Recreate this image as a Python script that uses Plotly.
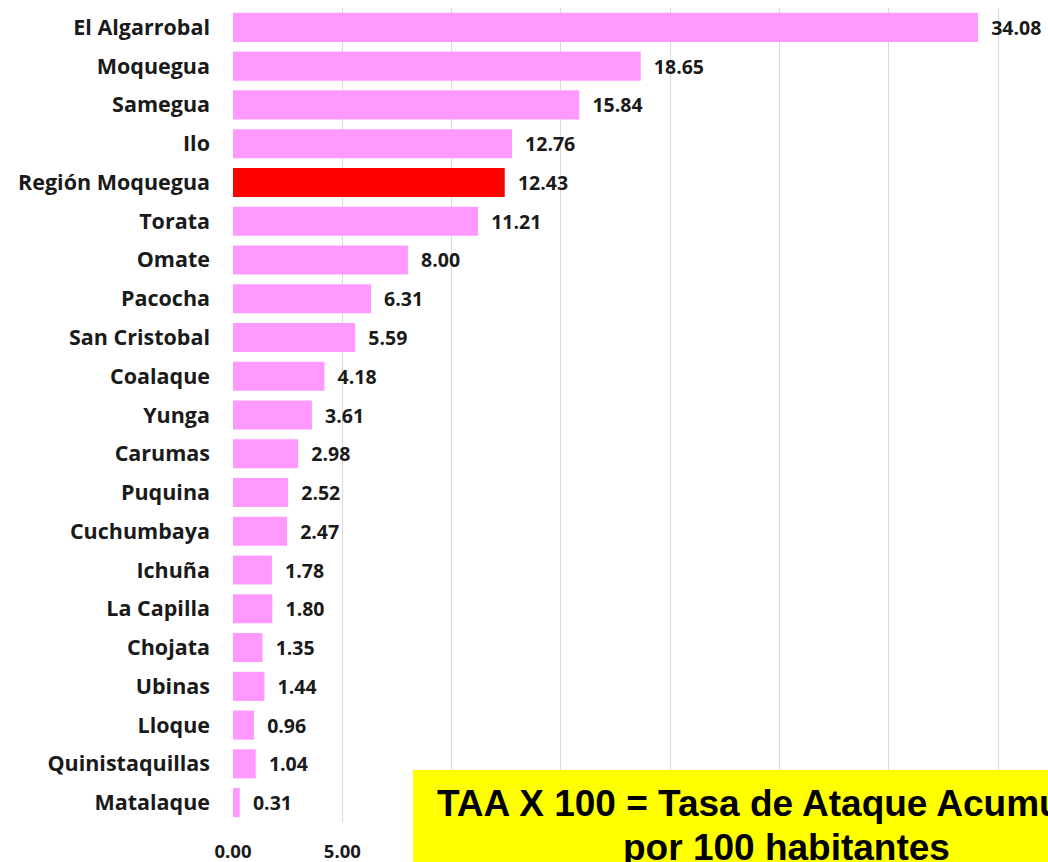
import plotly.graph_objects as go

categories = ["El Algarrobal", "Moquegua", "Samegua", "Ilo", "Región Moquegua", "Torata",
              "Omate", "Pacocha", "San Cristobal", "Coalaque", "Yunga", "Carumas", "Puquina",
              "Cuchumbaya", "Ichuña", "La Capilla", "Chojata", "Ubinas", "Lloque",
              "Quinistaquillas", "Matalaque"]
values = [34.08, 18.65, 15.84, 12.76, 12.43, 11.21, 8.00, 6.31, 5.59, 4.18, 3.61, 2.98, 2.52,
          2.47, 1.78, 1.80, 1.35, 1.44, 0.96, 1.04, 0.31]
highlight = "Región Moquegua"
tick_vals = [0, 5, 10, 15, 20, 25, 30, 35]
tick_text = ["0.00", "5.00", "10.00", "15.00", "20.00", "25.00", "30.00", "35.00"]
note_line1 = "TAA X 100 = Tasa de Ataque Acumulada"
note_line2 = "por 100 habitantes"

colors = ["#FF0000" if c == highlight else "#FF99FF" for c in categories]

W, H = 1048, 862
L, R, T, B = 233, 0, 8, 40
FONT = "Open Sans"

fig = go.Figure(go.Bar(
    x=values, y=categories, orientation="h",
    marker=dict(color=colors, line=dict(width=0)),
    text=["\u00a0\u00a0" + f"{v:.2f}" for v in values],
    textposition="outside", cliponaxis=False,
    textfont=dict(family=FONT, size=19.5, color="#1a1a1a", weight="bold"),
))

fig.update_layout(
    width=W, height=H,
    margin=dict(l=L, r=R, t=T, b=B, pad=0),
    paper_bgcolor="white", plot_bgcolor="white",
    bargap=0.25, showlegend=False,
    font=dict(family=FONT, color="#1a1a1a"),
)
fig.update_xaxes(
    range=[0, 37.28], tickvals=tick_vals, ticktext=tick_text,
    showgrid=True, gridcolor="#D9D9D9", gridwidth=1, zeroline=False,
    showline=False, ticks="", ticklabelstandoff=16,
    tickfont=dict(family=FONT, size=18.5, color="#1a1a1a", weight="bold"),
)
fig.update_yaxes(
    categoryorder="array", categoryarray=categories, autorange="reversed",
    showgrid=False, showline=False, ticks="", ticklabelstandoff=22,
    tickfont=dict(family=FONT, size=21.5, color="#1a1a1a", weight="bold"),
)

def px_x(p):
    return (p - L) / (W - L - R)

def px_y(p):
    return (H - B - p) / (H - B - T)

fig.add_shape(type="rect", xref="paper", yref="paper",
              x0=px_x(413), x1=px_x(1100), y0=px_y(900), y1=px_y(770),
              fillcolor="#FFFF00", line=dict(width=0), layer="above")
fig.add_annotation(xref="paper", yref="paper", x=px_x(786), y=px_y(803),
                   xanchor="center", yanchor="middle", showarrow=False,
                   text="<b>" + note_line1 + "</b>",
                   font=dict(family="Liberation Sans, Arial", size=37, color="black"))
fig.add_annotation(xref="paper", yref="paper", x=px_x(786), y=px_y(847),
                   xanchor="center", yanchor="middle", showarrow=False,
                   text="<b>" + note_line2 + "</b>",
                   font=dict(family="Liberation Sans, Arial", size=37, color="black"))

fig.write_html("out.html", config={"displayModeBar": False},
               post_script="document.body.style.margin='0';document.body.style.overflow='hidden';")
